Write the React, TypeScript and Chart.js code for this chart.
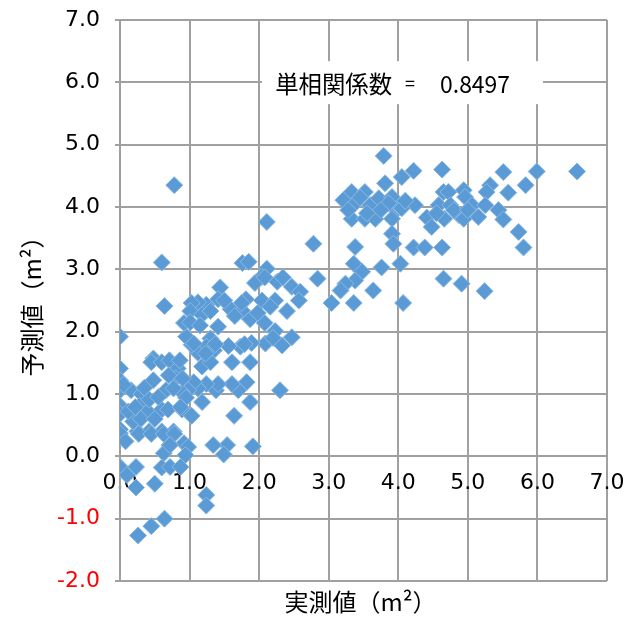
import React, { useEffect, useRef } from 'react';
import { Chart, registerables } from 'chart.js';

Chart.register(...registerables);

// 実測値 (x)
const actualValues = [
  4.22, 4.63, 5.51, 5.99, 6.57, 5.83, 5.58, 5.32, 5.27, 4.05,
  4.65, 4.72, 4.94, 4.96, 4.24, 4.58, 4.75, 4.87, 5.06, 5.25,
  5.15, 5.44, 5.51, 4.41, 4.48, 4.66, 4.94, 5.73, 5.80, 4.22,
  4.38, 4.63, 4.03, 4.65, 4.91, 5.24, 4.07, 3.97, 4.00, 3.79,
  3.33, 3.52, 3.81, 3.21, 3.38, 3.60, 3.72, 3.91, 3.86, 3.33,
  3.52, 3.67, 3.91, 4.05, 3.91, 3.93, 3.38, 2.78, 2.11, 3.36,
  3.48, 3.76, 3.38, 3.24, 3.17, 3.64, 2.84, 3.04, 3.36, 3.45,
  3.28, 3.75, 4.10, 4.80, 5.00, 4.55, 3.55, 2.11, 2.04, 2.26,
  2.47, 2.59, 2.04, 2.23, 2.57, 2.40, 2.47, 2.33, 2.09, 2.30,
  1.76, 1.85, 1.94, 2.08, 2.34, 1.81, 1.59, 1.44, 1.41, 1.24,
  1.12, 1.03, 1.01, 1.18, 1.30, 1.76, 1.87, 2.08, 2.23, 1.89,
  1.73, 1.56, 1.41, 1.30, 1.24, 1.12, 1.03, 0.95, 0.92, 1.01,
  1.61, 1.87, 1.35, 1.18, 1.30, 1.82, 1.70, 1.61, 1.38, 1.41,
  1.24, 1.12, 1.18, 1.06, 0.98, 1.87, 1.64, 1.91, 1.54, 1.34,
  1.49, 1.75, 2.16, 1.98, 1.65, 2.20, 0.00, 0.00, 0.00, 0.00,
  0.00, 0.00, 0.00, 0.00, 0.16, 0.31, 0.28, 0.25, 0.42, 0.40,
  0.42, 0.48, 0.48, 0.45, 0.66, 0.60, 0.69, 0.60, 0.77, 0.71,
  0.63, 0.60, 0.71, 0.83, 0.86, 0.80, 0.89, 0.95, 0.89, 1.03,
  0.92, 0.98, 0.77, 0.19, 0.08, 0.27, 0.45, 0.63, 0.78, 0.94,
  0.60, 0.64, 0.78, 0.05, 0.12, 0.35, 0.55, 0.70, 0.90, 0.30,
  0.50, 0.22, 0.87, 1.06, 1.23, 1.37, 1.79, 0.00, 0.23, 0.60,
  0.72, 0.87, 0.23, 0.50, 0.26, 0.45, 0.64, 1.24, 1.24, 0.10,
  0.72, 1.50, 1.15,
];

// 予測値 (y)
const predictedValues = [
  4.58, 4.60, 4.56, 4.57, 4.57, 4.35, 4.23, 4.35, 4.24, 4.48,
  4.24, 4.24, 4.27, 4.16, 4.03, 4.03, 4.03, 3.87, 4.03, 4.03,
  3.84, 3.95, 3.80, 3.83, 3.68, 3.81, 3.81, 3.60, 3.35, 3.35,
  3.35, 3.35, 3.09, 2.85, 2.77, 2.65, 2.46, 3.95, 4.02, 4.82,
  4.24, 4.24, 4.38, 4.11, 4.06, 4.03, 4.14, 4.16, 4.06, 3.81,
  3.81, 3.81, 3.81, 3.98, 3.57, 3.41, 3.36, 3.41, 3.76, 3.09,
  2.96, 3.03, 2.82, 2.77, 2.66, 2.66, 2.85, 2.46, 2.46, 4.15,
  3.95, 3.95, 4.10, 3.95, 3.95, 3.90, 3.90, 3.01, 2.88, 2.80,
  2.72, 2.64, 2.50, 2.50, 2.50, 2.33, 1.91, 1.78, 1.81, 1.06,
  3.10, 3.12, 2.78, 2.87, 2.87, 2.52, 2.36, 2.71, 2.52, 2.43,
  2.47, 2.46, 2.33, 2.27, 2.33, 2.33, 2.20, 2.14, 2.01, 1.82,
  1.76, 1.77, 2.08, 1.89, 1.76, 1.66, 1.79, 1.92, 2.14, 2.15,
  1.51, 1.51, 1.70, 1.44, 1.51, 1.19, 1.06, 1.16, 1.06, 1.16,
  1.16, 1.09, 0.87, 1.19, 1.06, 0.87, 0.65, 0.16, 0.18, 0.18,
  0.03, 2.46, 2.40, 2.30, 2.25, 1.90, 1.92, 1.41, 1.22, 1.06,
  0.81, 0.68, 0.43, 0.37, 1.06, 1.00, 0.81, 0.40, 0.40, 0.72,
  0.91, 1.22, 1.57, 1.51, 1.06, 0.75, 0.75, 0.40, 0.40, 0.18,
  0.05, 1.51, 1.54, 1.41, 1.54, 1.25, 1.03, 0.94, 0.75, 0.65,
  0.21, 0.15, 1.09, 0.56, 0.24, 0.36, 0.36, 0.36, 0.36, 0.02,
  3.11, 2.41, 4.35, 1.15, 0.72, 1.10, 0.95, 1.30, 1.25, 0.60,
  0.60, 0.79, 0.79, 1.81, 1.65, 1.80, 1.80, -0.17, -0.17, -0.18,
  -0.17, -0.17, -0.50, -0.44, -1.27, -1.12, -1.00, -0.62, -0.79, -0.30,
  0.18, 2.50, 2.10,
];

const xAxisMin = 0;
const xAxisMax = 7;
const yAxisMin = -2;
const yAxisMax = 7;
const tickStep = 1;

const xAxisTitle = '実測値（m²）';
const yAxisTitle = '予測値（m²）';
const correlationLabel = '単相関係数';
const correlationEquals = '=';
const correlationValue = '0.8497';

const gridColor = '#a0a0a0';
const markerColor = '#5b9bd5';
const markerBorder = '#8cb8e2';
const tickFont = "'DejaVu Sans', sans-serif";
const jpFont = "'Noto Sans CJK JP', sans-serif";

const overlayPlugin = {
  id: 'overlayText',
  afterDraw(chart: any) {
    const { ctx, chartArea, scales } = chart;
    const xs = scales.x;
    const ys = scales.y;
    ctx.save();
    // annotation box
    const bx0 = xs.getPixelForValue(2.04);
    const bx1 = xs.getPixelForValue(6.08);
    const by0 = ys.getPixelForValue(6.34);
    const by1 = ys.getPixelForValue(5.65);
    ctx.fillStyle = '#ffffff';
    ctx.fillRect(bx0, by0, bx1 - bx0, by1 - by0);
    const cy = ys.getPixelForValue(5.98);
    ctx.fillStyle = '#000000';
    ctx.textBaseline = 'middle';
    ctx.textAlign = 'left';
    ctx.font = `24px ${jpFont}`;
    ctx.fillText(correlationLabel, xs.getPixelForValue(2.23), cy, 117);
    ctx.textAlign = 'center';
    ctx.font = `18px ${jpFont}`;
    ctx.fillText(correlationEquals, xs.getPixelForValue(4.17), cy);
    ctx.textAlign = 'left';
    ctx.font = `24px ${jpFont}`;
    ctx.fillText(correlationValue, xs.getPixelForValue(4.6), cy, 70);
    // x axis title
    ctx.textAlign = 'center';
    ctx.font = `24px ${jpFont}`;
    ctx.fillText(xAxisTitle, (chartArea.left + chartArea.right) / 2 - 3, chartArea.bottom + 21);
    ctx.restore();
  },
};

export default function App() {
  const canvasRef = useRef<HTMLCanvasElement>(null);

  useEffect(() => {
    const points = actualValues.map((x, i) => ({ x, y: predictedValues[i] }));
    const chart = new Chart(canvasRef.current as HTMLCanvasElement, {
      type: 'scatter',
      data: {
        datasets: [
          {
            data: points,
            pointStyle: 'rectRot',
            pointRadius: 8.5,
            pointHoverRadius: 8.5,
            backgroundColor: markerColor,
            borderColor: markerBorder,
            borderWidth: 1,
          },
        ],
      },
      options: {
        responsive: false,
        animation: false,
        layout: { padding: { top: 12, right: 25, bottom: 36, left: 0 } },
        plugins: {
          legend: { display: false },
          tooltip: { enabled: false },
        },
        scales: {
          x: {
            type: 'linear',
            position: { y: 0 } as any,
            min: xAxisMin,
            max: xAxisMax,
            afterFit: (scale: any) => {
              scale.paddingLeft = 0;
              scale.paddingRight = 0;
              scale.paddingTop = 0;
              scale.paddingBottom = 0;
            },
            grid: { color: gridColor, lineWidth: 2, tickLength: 8 },
            border: { color: gridColor, width: 2 },
            ticks: {
              stepSize: tickStep,
              padding: 8,
              color: '#000000',
              font: { family: tickFont, size: 22, lineHeight: 1 },
              callback: (v: any) => Number(v).toFixed(1),
              maxRotation: 0,
            },
          },
          y: {
            type: 'linear',
            position: 'left',
            min: yAxisMin,
            max: yAxisMax,
            afterFit: (scale: any) => {
              scale.width = 112;
              scale.paddingTop = 0;
              scale.paddingBottom = 0;
            },
            grid: { color: gridColor, lineWidth: 2, tickLength: 5 },
            border: { color: gridColor, width: 2 },
            title: {
              display: true,
              text: yAxisTitle,
              color: '#000000',
              font: { family: jpFont, size: 24, lineHeight: 1.2 },
              padding: { top: 9, bottom: 0 },
            },
            ticks: {
              stepSize: tickStep,
              padding: 15,
              color: (c: any) => (c.tick && c.tick.value < 0 ? '#ff0000' : '#000000'),
              font: { family: tickFont, size: 22, lineHeight: 1 },
              callback: (v: any) => Number(v).toFixed(1),
            },
          },
        },
      },
      plugins: [overlayPlugin],
    });
    return () => chart.destroy();
  }, []);

  return <canvas ref={canvasRef} width={624} height={609} style={{ display: 'block' }} />;
}
